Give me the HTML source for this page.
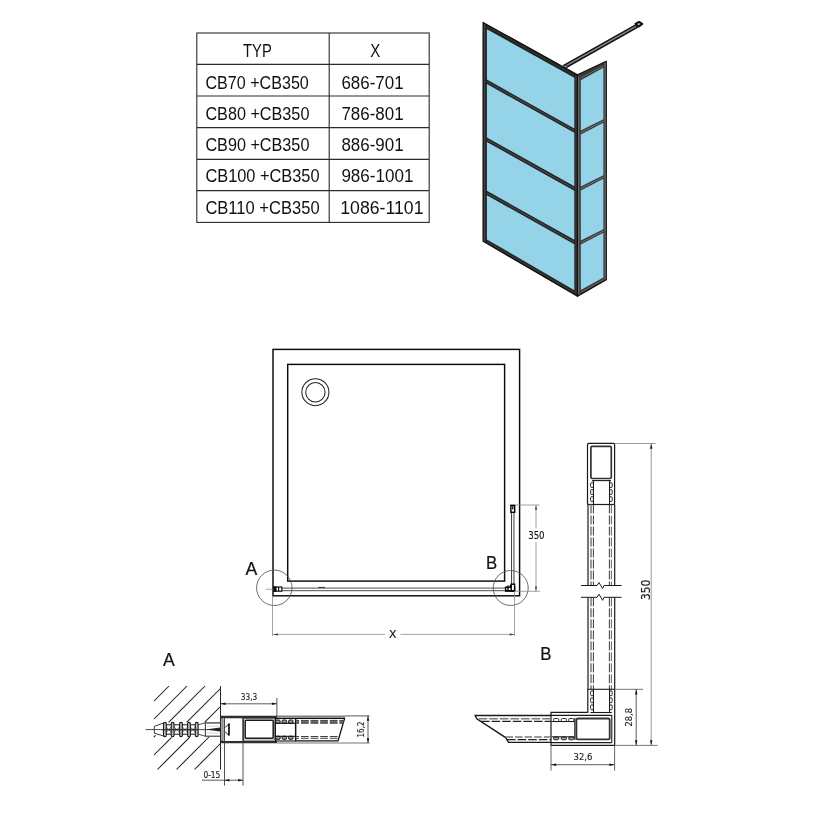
<!DOCTYPE html>
<html lang="cs"><head><meta charset="utf-8"><title>CB + CB350</title>
<style>html,body{margin:0;padding:0;background:#fff}svg{display:block;will-change:transform}text{font-family:"Liberation Sans",sans-serif}.d{font-family:"DejaVu Sans Condensed","DejaVu Sans","Liberation Sans",sans-serif}</style>
</head><body>
<svg width="830" height="830" viewBox="0 0 830 830">
<rect width="830" height="830" fill="#fff"/>
<g id="table">
<rect x="196.8" y="33" width="232.4" height="189.4" rx="0" stroke="#2a2a2a" stroke-width="1.1" fill="none" />
<line x1="196.8" y1="64.4" x2="429.2" y2="64.4" stroke="#2a2a2a" stroke-width="1.1" />
<line x1="196.8" y1="96" x2="429.2" y2="96" stroke="#2a2a2a" stroke-width="1.1" />
<line x1="196.8" y1="127.6" x2="429.2" y2="127.6" stroke="#2a2a2a" stroke-width="1.1" />
<line x1="196.8" y1="159.4" x2="429.2" y2="159.4" stroke="#2a2a2a" stroke-width="1.1" />
<line x1="196.8" y1="190.6" x2="429.2" y2="190.6" stroke="#2a2a2a" stroke-width="1.1" />
<line x1="329.2" y1="33" x2="329.2" y2="222.4" stroke="#2a2a2a" stroke-width="1.1" />
<text x="243" y="57" font-size="17.6" text-anchor="start" fill="#111" textLength="28.8" lengthAdjust="spacingAndGlyphs" >TYP</text>
<text x="370.2" y="57" font-size="17.6" text-anchor="start" fill="#111" textLength="10" lengthAdjust="spacingAndGlyphs" >X</text>
<text x="205.4" y="88.6" font-size="17.6" text-anchor="start" fill="#111" textLength="103.4" lengthAdjust="spacingAndGlyphs" >CB70 +CB350</text>
<text x="341.4" y="88.6" font-size="17.6" text-anchor="start" fill="#111" textLength="62.2" lengthAdjust="spacingAndGlyphs" >686-701</text>
<text x="205.4" y="119.8" font-size="17.6" text-anchor="start" fill="#111" textLength="104" lengthAdjust="spacingAndGlyphs" >CB80 +CB350</text>
<text x="341.4" y="119.8" font-size="17.6" text-anchor="start" fill="#111" textLength="62.2" lengthAdjust="spacingAndGlyphs" >786-801</text>
<text x="205.4" y="151" font-size="17.6" text-anchor="start" fill="#111" textLength="104" lengthAdjust="spacingAndGlyphs" >CB90 +CB350</text>
<text x="341.4" y="151" font-size="17.6" text-anchor="start" fill="#111" textLength="62.2" lengthAdjust="spacingAndGlyphs" >886-901</text>
<text x="205.4" y="182.4" font-size="17.6" text-anchor="start" fill="#111" textLength="114.2" lengthAdjust="spacingAndGlyphs" >CB100 +CB350</text>
<text x="341.4" y="182.4" font-size="17.6" text-anchor="start" fill="#111" textLength="72" lengthAdjust="spacingAndGlyphs" >986-1001</text>
<text x="205.4" y="213.6" font-size="17.6" text-anchor="start" fill="#111" textLength="114.2" lengthAdjust="spacingAndGlyphs" >CB110 +CB350</text>
<text x="340.3" y="213.6" font-size="17.6" text-anchor="start" fill="#111" textLength="83.2" lengthAdjust="spacingAndGlyphs" >1086-1101</text>
</g>
<g id="iso">
<line x1="564" y1="67.0" x2="637" y2="25.8" stroke="#111" stroke-width="4.4" />
<line x1="565" y1="66.4" x2="636" y2="26.4" stroke="#8a8a8a" stroke-width="1.5" />
<polygon points="635.4,23.8 639,21.9 642.2,23.9 638.6,26.6" fill="#c8c8c8" stroke="#111" stroke-width="2.0" stroke-linejoin="round"/>
<ellipse cx="565.2" cy="66.6" rx="2.2" ry="1.5" fill="#999" stroke="#111" stroke-width="0.8"/>
<polygon points="483.1,22.4 577.5,74.8 577.5,296.3 483.1,241.3" fill="#222" stroke="#0d0d0d" stroke-width="1.2" stroke-linejoin="round"/>
<polygon points="577.5,74.8 606.3,61.2 606.3,279.8 577.5,296.3" fill="#3a3a3a" stroke="#0d0d0d" stroke-width="1.2" stroke-linejoin="round"/>
<polygon points="486.9,29.2 574.3,77.8 574.3,128.4 486.9,79.6" fill="#94d3e8" stroke="none" stroke-width="0" />
<polygon points="486.9,84.0 574.3,132.8 574.3,186.3 486.9,137.6" fill="#94d3e8" stroke="none" stroke-width="0" />
<polygon points="486.9,142.0 574.3,190.7 574.3,239.8 486.9,190.8" fill="#94d3e8" stroke="none" stroke-width="0" />
<polygon points="486.9,195.2 574.3,244.2 574.3,290.2 486.9,239.4" fill="#94d3e8" stroke="none" stroke-width="0" />
<polygon points="580.8,80.2 603.4,67.8 603.4,119.2 580.8,130.6" fill="#94d3e8" stroke="none" stroke-width="0" />
<polygon points="580.8,134.4 603.4,122.8 603.4,175.2 580.8,186.6" fill="#94d3e8" stroke="none" stroke-width="0" />
<polygon points="580.8,190.4 603.4,178.8 603.4,229.2 580.8,240.6" fill="#94d3e8" stroke="none" stroke-width="0" />
<polygon points="580.8,244.4 603.4,232.8 603.4,277.4 580.8,290.0" fill="#94d3e8" stroke="none" stroke-width="0" />
<line x1="578.7" y1="76.5" x2="578.7" y2="294.5" stroke="#707070" stroke-width="1.1" />
<line x1="576" y1="76" x2="576" y2="294" stroke="#4a4a4a" stroke-width="0.9" />
<line x1="487" y1="26.2" x2="574.2" y2="75.2" stroke="#333" stroke-width="1.2" />
<line x1="487" y1="81.8" x2="574.2" y2="130.6" stroke="#484848" stroke-width="1.2" />
<line x1="487" y1="139.8" x2="574.2" y2="188.5" stroke="#484848" stroke-width="1.2" />
<line x1="487" y1="193" x2="574.2" y2="242" stroke="#484848" stroke-width="1.2" />
<line x1="487" y1="241.7" x2="574.2" y2="292.4" stroke="#3c3c3c" stroke-width="1.2" />
<line x1="605.2" y1="62.5" x2="605.2" y2="279.5" stroke="#707070" stroke-width="1.0" />
<line x1="581" y1="132.5" x2="603.4" y2="121.1" stroke="#777" stroke-width="1.0" />
<line x1="581" y1="188.5" x2="603.4" y2="177.1" stroke="#777" stroke-width="1.0" />
<line x1="581" y1="242.5" x2="603.4" y2="231.1" stroke="#777" stroke-width="1.0" />
<line x1="581" y1="78" x2="603.4" y2="66" stroke="#6a6a6a" stroke-width="0.9" />
<line x1="581" y1="292.2" x2="603.4" y2="279.6" stroke="#6a6a6a" stroke-width="0.9" />
<line x1="484.6" y1="24" x2="484.6" y2="241" stroke="#444" stroke-width="1.2" />
</g>
<g id="plan">
<rect x="273" y="349.4" width="246.6" height="246.4" rx="0" stroke="#0a0a0a" stroke-width="1.45" fill="none" />
<rect x="287.7" y="364.4" width="216.9" height="216.7" rx="0" stroke="#0a0a0a" stroke-width="1.45" fill="none" />
<circle cx="315.4" cy="392.2" r="13.5" fill="none" stroke="#222" stroke-width="1.05"/>
<circle cx="315.4" cy="392.2" r="9.7" fill="none" stroke="#222" stroke-width="1.05"/>
<line x1="280" y1="588.1" x2="506" y2="588.1" stroke="#2e2e2e" stroke-width="0.85" />
<line x1="280" y1="590.7" x2="506" y2="590.7" stroke="#2e2e2e" stroke-width="0.85" />
<line x1="318" y1="587.4" x2="325" y2="587.4" stroke="#333" stroke-width="1" />
<line x1="511.55" y1="512" x2="511.55" y2="586" stroke="#2a2a2a" stroke-width="0.9" />
<line x1="513.95" y1="512" x2="513.95" y2="586" stroke="#2a2a2a" stroke-width="0.9" />
<rect x="510.9" y="505.3" width="3.8" height="7.0" rx="0" stroke="#000" stroke-width="1.4" fill="none" />
<line x1="512.8" y1="506" x2="512.8" y2="509.4" stroke="#000" stroke-width="1.2" />
<rect x="274" y="587" width="7.8" height="4.2" rx="0" stroke="#111" stroke-width="1.2" fill="#fff" />
<rect x="273.6" y="586.8" width="2.6" height="4.6" rx="0" stroke="#111" stroke-width="0.6" fill="#111" />
<line x1="278.6" y1="587" x2="278.6" y2="591" stroke="#111" stroke-width="1.2" />
<line x1="266" y1="589.3" x2="273" y2="589.3" stroke="#888" stroke-width="0.8" />
<rect x="505.6" y="587.2" width="9.0" height="3.8" rx="0" stroke="#000" stroke-width="1.4" fill="#fff" />
<rect x="511.2" y="584.2" width="3.4" height="6.8" rx="0" stroke="#000" stroke-width="1.4" fill="#fff" />
<line x1="508" y1="585.6" x2="508" y2="591" stroke="#000" stroke-width="1.4" />
<line x1="510.4" y1="585" x2="510.4" y2="588" stroke="#000" stroke-width="1.4" />
<line x1="505.4" y1="590.8" x2="515" y2="590.8" stroke="#000" stroke-width="1.4" />
<circle cx="274.3" cy="587.8" r="17.7" fill="none" stroke="#4a4a4a" stroke-width="0.8"/>
<circle cx="510.7" cy="588" r="17.5" fill="none" stroke="#4a4a4a" stroke-width="0.8"/>
<line x1="272.5" y1="596" x2="272.5" y2="636" stroke="#8c8c8c" stroke-width="0.8" />
<line x1="514.5" y1="591" x2="514.5" y2="636" stroke="#8c8c8c" stroke-width="0.8" />
<line x1="273" y1="634.4" x2="385" y2="634.4" stroke="#8c8c8c" stroke-width="0.8" />
<line x1="400.5" y1="634.4" x2="514.5" y2="634.4" stroke="#8c8c8c" stroke-width="0.8" />
<polygon points="273.3,634.4 277.8,633.4 277.8,635.4" fill="#333" stroke="none" stroke-width="0" />
<polygon points="514.2,634.4 509.70000000000005,633.4 509.70000000000005,635.4" fill="#333" stroke="none" stroke-width="0" />
<text x="389" y="638" font-size="11" text-anchor="start" fill="#111" stroke="#111" stroke-width="0.15" textLength="7.4" lengthAdjust="spacingAndGlyphs" class="d">X</text>
<line x1="515" y1="505" x2="539.5" y2="505" stroke="#8c8c8c" stroke-width="0.8" />
<line x1="515" y1="591.3" x2="540" y2="591.3" stroke="#8c8c8c" stroke-width="0.8" />
<line x1="536" y1="505" x2="536" y2="528.5" stroke="#8c8c8c" stroke-width="0.8" />
<line x1="536" y1="542" x2="536" y2="591.3" stroke="#8c8c8c" stroke-width="0.8" />
<polygon points="536,505.3 535.0,509.8 537.0,509.8" fill="#333" stroke="none" stroke-width="0" />
<polygon points="536,591 535.0,586.5 537.0,586.5" fill="#333" stroke="none" stroke-width="0" />
<text x="528.2" y="539" font-size="10.3" text-anchor="start" fill="#111" stroke="#111" stroke-width="0.12" textLength="16.4" lengthAdjust="spacingAndGlyphs" class="d">350</text>
<text x="245.6" y="575.2" font-size="18.4" text-anchor="start" fill="#111" stroke="#111" stroke-width="0.2" textLength="11.8" lengthAdjust="spacingAndGlyphs" >A</text>
<text x="486" y="568.5" font-size="18.2" text-anchor="start" fill="#111" stroke="#111" stroke-width="0.2" textLength="11.2" lengthAdjust="spacingAndGlyphs" >B</text>
</g>
<g id="detailA">
<text x="163" y="665.8" font-size="18.4" text-anchor="start" fill="#111" stroke="#111" stroke-width="0.2" textLength="11.8" lengthAdjust="spacingAndGlyphs" >A</text>
<line x1="154" y1="701" x2="169" y2="686" stroke="#1a1a1a" stroke-width="1.05" />
<line x1="154" y1="719" x2="187" y2="686" stroke="#1a1a1a" stroke-width="1.05" />
<line x1="168.6" y1="722.4" x2="205" y2="686" stroke="#1a1a1a" stroke-width="1.05" />
<line x1="186.6" y1="722.4" x2="220.5" y2="688.5" stroke="#1a1a1a" stroke-width="1.05" />
<line x1="204.8" y1="722.2" x2="220.5" y2="706.5" stroke="#1a1a1a" stroke-width="1.05" />
<line x1="154" y1="755" x2="171.6" y2="737.4" stroke="#1a1a1a" stroke-width="1.05" />
<line x1="157.5" y1="769.5" x2="189.8" y2="737.2" stroke="#1a1a1a" stroke-width="1.05" />
<line x1="176.5" y1="769.5" x2="209" y2="737" stroke="#1a1a1a" stroke-width="1.05" />
<line x1="194.5" y1="769.5" x2="220.5" y2="743.5" stroke="#1a1a1a" stroke-width="1.05" />
<line x1="153.8" y1="737.2" x2="155.6" y2="735.4" stroke="#1a1a1a" stroke-width="1.05" />
<line x1="220.5" y1="686" x2="220.5" y2="769.6" stroke="#262626" stroke-width="1.0" />
<line x1="145.5" y1="729.6" x2="221" y2="729.6" stroke="#222" stroke-width="0.8" />
<polyline points="163.6,723 154.3,726.4 154.3,733.2 163.6,736" fill="none" stroke="#222" stroke-width="0.9" />
<rect x="163.5" y="722.4" width="2.8" height="14.2" rx="1.4" stroke="#1a1a1a" stroke-width="1.1" fill="#bbb" />
<rect x="171.2" y="722.4" width="2.8" height="14.2" rx="1.4" stroke="#1a1a1a" stroke-width="1.1" fill="#bbb" />
<rect x="179.6" y="722.4" width="2.8" height="14.2" rx="1.4" stroke="#1a1a1a" stroke-width="1.1" fill="#bbb" />
<rect x="187.6" y="722.4" width="2.8" height="14.2" rx="1.4" stroke="#1a1a1a" stroke-width="1.1" fill="#bbb" />
<rect x="195.29999999999998" y="722.4" width="2.8" height="14.2" rx="1.4" stroke="#1a1a1a" stroke-width="1.1" fill="#bbb" />
<line x1="166.3" y1="724.8" x2="171.2" y2="724.8" stroke="#1a1a1a" stroke-width="1.0" />
<line x1="166.3" y1="734.2" x2="171.2" y2="734.2" stroke="#1a1a1a" stroke-width="1.0" />
<polyline points="166.3,727 171.2,732.2" fill="none" stroke="#333" stroke-width="0.8" />
<polyline points="166.3,732.2 171.2,727" fill="none" stroke="#333" stroke-width="0.8" />
<line x1="174" y1="724.8" x2="179.6" y2="724.8" stroke="#1a1a1a" stroke-width="1.0" />
<line x1="174" y1="734.2" x2="179.6" y2="734.2" stroke="#1a1a1a" stroke-width="1.0" />
<polyline points="174,727 179.6,732.2" fill="none" stroke="#333" stroke-width="0.8" />
<polyline points="174,732.2 179.6,727" fill="none" stroke="#333" stroke-width="0.8" />
<line x1="182.4" y1="724.8" x2="187.6" y2="724.8" stroke="#1a1a1a" stroke-width="1.0" />
<line x1="182.4" y1="734.2" x2="187.6" y2="734.2" stroke="#1a1a1a" stroke-width="1.0" />
<polyline points="182.4,727 187.6,732.2" fill="none" stroke="#333" stroke-width="0.8" />
<polyline points="182.4,732.2 187.6,727" fill="none" stroke="#333" stroke-width="0.8" />
<line x1="190.4" y1="724.8" x2="195.3" y2="724.8" stroke="#1a1a1a" stroke-width="1.0" />
<line x1="190.4" y1="734.2" x2="195.3" y2="734.2" stroke="#1a1a1a" stroke-width="1.0" />
<polyline points="190.4,727 195.3,732.2" fill="none" stroke="#333" stroke-width="0.8" />
<polyline points="190.4,732.2 195.3,727" fill="none" stroke="#333" stroke-width="0.8" />
<line x1="162" y1="729.6" x2="198" y2="729.6" stroke="#333" stroke-width="1.2" />
<polyline points="198.1,724.8 205.4,722.8" fill="none" stroke="#222" stroke-width="0.8" />
<polyline points="198.1,734.2 205.4,736.2" fill="none" stroke="#222" stroke-width="0.8" />
<line x1="205.4" y1="722.2" x2="205.4" y2="736.6" stroke="#444" stroke-width="1.1" />
<line x1="205.4" y1="722.9" x2="220.4" y2="722.9" stroke="#555" stroke-width="1.5" />
<line x1="205.4" y1="736.2" x2="220.4" y2="736.2" stroke="#333" stroke-width="1.1" />
<line x1="207" y1="726.2" x2="219" y2="726.2" stroke="#bbb" stroke-width="0.6" />
<line x1="207" y1="733" x2="219" y2="733" stroke="#bbb" stroke-width="0.6" />
<polygon points="205.5,729.6 220.2,727.6 220.2,731.6" fill="#222" stroke="none" stroke-width="0" />
<line x1="220.5" y1="716.9" x2="277" y2="716.9" stroke="#2e2e2e" stroke-width="2.5" />
<line x1="220.5" y1="742.1" x2="277" y2="742.1" stroke="#2e2e2e" stroke-width="2.3" />
<rect x="221.0" y="718.6" width="1.9" height="22.4" rx="0.8" stroke="#222" stroke-width="0.8" fill="none" />
<line x1="224.4" y1="716" x2="224.4" y2="743" stroke="#333" stroke-width="1.0" />
<line x1="243.1" y1="716" x2="243.1" y2="743" stroke="#333" stroke-width="1.6" />
<rect x="245.2" y="720.3" width="28.0" height="18.0" rx="0.8" stroke="#1a1a1a" stroke-width="1.5" fill="none" />
<rect x="243.6" y="718.6" width="31.2" height="21.6" rx="0.4" stroke="#333" stroke-width="0.7" fill="none" />
<line x1="275.4" y1="717" x2="275.4" y2="742" stroke="#111" stroke-width="1.2" />
<polyline points="225.2,727.6 228.8,723.8 228.8,735.2 225.2,731.8" fill="none" stroke="#1a1a1a" stroke-width="1.0" />
<line x1="229" y1="723.4" x2="229" y2="735.6" stroke="#1a1a1a" stroke-width="1.6" />
<line x1="295.6" y1="718.4" x2="295.6" y2="741" stroke="#1a1a1a" stroke-width="1.2" />
<rect x="275.59999999999997" y="720.0" width="4.6" height="3.4" rx="1.4" stroke="#111" stroke-width="1.0" fill="#999" />
<rect x="275.59999999999997" y="736.2" width="4.6" height="3.2" rx="1.4" stroke="#111" stroke-width="1.0" fill="#999" />
<rect x="282.0" y="720.0" width="4.6" height="3.4" rx="1.4" stroke="#111" stroke-width="1.0" fill="#999" />
<rect x="282.0" y="736.2" width="4.6" height="3.2" rx="1.4" stroke="#111" stroke-width="1.0" fill="#999" />
<rect x="288.5" y="720.0" width="4.6" height="3.4" rx="1.4" stroke="#111" stroke-width="1.0" fill="#999" />
<rect x="288.5" y="736.2" width="4.6" height="3.2" rx="1.4" stroke="#111" stroke-width="1.0" fill="#999" />
<line x1="275.6" y1="723.3" x2="295.6" y2="723.3" stroke="#111" stroke-width="1.1" />
<line x1="275.6" y1="736.3" x2="295.6" y2="736.3" stroke="#111" stroke-width="1.1" />
<line x1="275.6" y1="718.5" x2="295.6" y2="718.5" stroke="#111" stroke-width="1.1" />
<line x1="275.6" y1="741.0" x2="295.6" y2="741.0" stroke="#111" stroke-width="1.1" />
<polygon points="295.6,718.4 344.6,718.4 338,740.9 295.6,740.9" fill="none" stroke="#111" stroke-width="1.3" />
<line x1="296.2" y1="721.8" x2="343.4" y2="721.8" stroke="#6a6a6a" stroke-width="3.2" stroke-dasharray="7.7 1.9" stroke-dashoffset="4.8"/>
<line x1="296.2" y1="720.4" x2="343.6" y2="720.4" stroke="#333" stroke-width="0.8" stroke-dasharray="7.7 1.9" stroke-dashoffset="4.8"/>
<line x1="296.2" y1="723.2" x2="343" y2="723.2" stroke="#333" stroke-width="0.8" stroke-dasharray="7.7 1.9" stroke-dashoffset="4.8"/>
<line x1="296.2" y1="736.5" x2="339" y2="736.5" stroke="#2a2a2a" stroke-width="0.9" stroke-dasharray="7.7 1.9" stroke-dashoffset="4.8"/>
<line x1="296.2" y1="738.3" x2="338.6" y2="738.3" stroke="#2a2a2a" stroke-width="0.9" stroke-dasharray="7.7 1.9" stroke-dashoffset="4.8"/>
<line x1="277" y1="716.6" x2="345" y2="716.6" stroke="#808080" stroke-width="2.4" />
<line x1="345" y1="715.9" x2="369.6" y2="715.9" stroke="#666" stroke-width="1.1" />
<line x1="277" y1="743.0" x2="369.6" y2="743.0" stroke="#777" stroke-width="1.2" />
<line x1="368" y1="716" x2="368" y2="743" stroke="#333" stroke-width="0.8" />
<polygon points="368,716 366.8,720.8 369.2,720.8" fill="#111" stroke="none" stroke-width="0" />
<polygon points="368,743 366.8,738.2 369.2,738.2" fill="#111" stroke="none" stroke-width="0" />
<text x="364" y="737.4" font-size="9" text-anchor="start" fill="#222" stroke="#222" stroke-width="0.15" textLength="15.8" lengthAdjust="spacingAndGlyphs" transform="rotate(-90 364 737.4)" class="d">16,2</text>
<line x1="276.9" y1="698" x2="276.9" y2="716" stroke="#555" stroke-width="1.0" />
<line x1="220.5" y1="703.8" x2="277" y2="703.8" stroke="#333" stroke-width="0.8" />
<polygon points="220.7,703.8 225.5,702.5999999999999 225.5,705.0" fill="#111" stroke="none" stroke-width="0" />
<polygon points="276.7,703.8 271.9,702.5999999999999 271.9,705.0" fill="#111" stroke="none" stroke-width="0" />
<text x="240.8" y="700" font-size="9" text-anchor="start" fill="#222" stroke="#222" stroke-width="0.15" textLength="16.4" lengthAdjust="spacingAndGlyphs" class="d">33,3</text>
<line x1="224.5" y1="743" x2="224.5" y2="785.6" stroke="#555" stroke-width="1.0" />
<line x1="243" y1="743" x2="243" y2="785.6" stroke="#555" stroke-width="1.0" />
<line x1="202" y1="780.2" x2="243" y2="780.2" stroke="#333" stroke-width="0.8" />
<polygon points="224.7,780.2 229.29999999999998,779.0 229.29999999999998,781.4000000000001" fill="#111" stroke="none" stroke-width="0" />
<polygon points="242.8,780.2 238.20000000000002,779.0 238.20000000000002,781.4000000000001" fill="#111" stroke="none" stroke-width="0" />
<text x="203.4" y="777.8" font-size="9" text-anchor="start" fill="#222" stroke="#222" stroke-width="0.15" textLength="17" lengthAdjust="spacingAndGlyphs" class="d">0-15</text>
</g>
<g id="detailB">
<text x="540.2" y="660" font-size="18.2" text-anchor="start" fill="#111" stroke="#111" stroke-width="0.2" textLength="11.2" lengthAdjust="spacingAndGlyphs" >B</text>
<rect x="587.5" y="443.4" width="27.1" height="61.1" rx="1.2" stroke="#1a1a1a" stroke-width="1.2" fill="none" />
<rect x="590.9" y="446.3" width="20.4" height="32.2" rx="1.2" stroke="#333" stroke-width="1.7" fill="none" />
<line x1="587.5" y1="504.5" x2="614.6" y2="504.5" stroke="#1a1a1a" stroke-width="1.2" />
<rect x="590.6" y="482.6" width="2.8" height="5.0" rx="1.3" stroke="#1a1a1a" stroke-width="0.9" fill="#fff" />
<rect x="609.6" y="482.6" width="2.6" height="5.0" rx="1.3" stroke="#1a1a1a" stroke-width="0.9" fill="#fff" />
<rect x="590.6" y="489.6" width="2.8" height="5.0" rx="1.3" stroke="#1a1a1a" stroke-width="0.9" fill="#fff" />
<rect x="609.6" y="489.6" width="2.6" height="5.0" rx="1.3" stroke="#1a1a1a" stroke-width="0.9" fill="#fff" />
<rect x="590.6" y="496.6" width="2.8" height="5.0" rx="1.3" stroke="#1a1a1a" stroke-width="0.9" fill="#fff" />
<rect x="609.6" y="496.6" width="2.6" height="5.0" rx="1.3" stroke="#1a1a1a" stroke-width="0.9" fill="#fff" />
<line x1="593.5" y1="480.6" x2="593.5" y2="504.1" stroke="#1a1a1a" stroke-width="1.0" />
<line x1="609.5" y1="480.6" x2="609.5" y2="504.1" stroke="#1a1a1a" stroke-width="1.0" />
<line x1="592" y1="480.6" x2="611" y2="480.6" stroke="#1a1a1a" stroke-width="1.1" />
<line x1="588" y1="504.5" x2="588" y2="585.5" stroke="#1a1a1a" stroke-width="1.2" />
<line x1="614.7" y1="504.5" x2="614.7" y2="585.5" stroke="#1a1a1a" stroke-width="1.2" />
<line x1="591" y1="504.5" x2="591" y2="585.5" stroke="#7a7a7a" stroke-width="1.5" stroke-dasharray="9 2"/>
<line x1="593.4" y1="504.5" x2="593.4" y2="585.5" stroke="#222" stroke-width="0.9" stroke-dasharray="9 2"/>
<line x1="609.4" y1="504.5" x2="609.4" y2="585.5" stroke="#222" stroke-width="0.9" stroke-dasharray="9 2"/>
<line x1="611.4" y1="504.5" x2="611.4" y2="585.5" stroke="#555" stroke-width="0.9" stroke-dasharray="9 2"/>
<line x1="588" y1="597.3" x2="588" y2="689.3" stroke="#1a1a1a" stroke-width="1.2" />
<line x1="614.7" y1="597.3" x2="614.7" y2="689.3" stroke="#1a1a1a" stroke-width="1.2" />
<line x1="591" y1="597.3" x2="591" y2="689.3" stroke="#7a7a7a" stroke-width="1.5" stroke-dasharray="9 2"/>
<line x1="593.4" y1="597.3" x2="593.4" y2="689.3" stroke="#222" stroke-width="0.9" stroke-dasharray="9 2"/>
<line x1="609.4" y1="597.3" x2="609.4" y2="689.3" stroke="#222" stroke-width="0.9" stroke-dasharray="9 2"/>
<line x1="611.4" y1="597.3" x2="611.4" y2="689.3" stroke="#555" stroke-width="0.9" stroke-dasharray="9 2"/>
<polyline points="581,585.5 597,585.5 599,582.5 602.6,588.5 604,585.5 621.6,585.5" fill="none" stroke="#1a1a1a" stroke-width="1.0" />
<polyline points="581,597.3 597,597.3 599,594.3 602.6,600.3 604,597.3 621.6,597.3" fill="none" stroke="#1a1a1a" stroke-width="1.0" />
<line x1="587.6" y1="689.3" x2="614.6" y2="689.3" stroke="#1a1a1a" stroke-width="1.1" />
<rect x="590.6" y="690.8" width="2.8" height="5.0" rx="1.3" stroke="#1a1a1a" stroke-width="0.9" fill="#fff" />
<rect x="609.6" y="690.8" width="2.6" height="5.0" rx="1.3" stroke="#1a1a1a" stroke-width="0.9" fill="#fff" />
<rect x="590.6" y="697.8" width="2.8" height="5.0" rx="1.3" stroke="#1a1a1a" stroke-width="0.9" fill="#fff" />
<rect x="609.6" y="697.8" width="2.6" height="5.0" rx="1.3" stroke="#1a1a1a" stroke-width="0.9" fill="#fff" />
<rect x="590.6" y="704.8" width="2.8" height="5.0" rx="1.3" stroke="#1a1a1a" stroke-width="0.9" fill="#fff" />
<rect x="609.6" y="704.8" width="2.6" height="5.0" rx="1.3" stroke="#1a1a1a" stroke-width="0.9" fill="#fff" />
<line x1="593.5" y1="688.8" x2="593.5" y2="712.3" stroke="#1a1a1a" stroke-width="1.0" />
<line x1="609.5" y1="688.8" x2="609.5" y2="712.3" stroke="#1a1a1a" stroke-width="1.0" />
<polyline points="587.8,689.3 587.8,712.4 551,712.4 551,745.4 614.7,745.4 614.7,689.3" fill="none" stroke="#1a1a1a" stroke-width="1.2" />
<polyline points="590.4,712.5 611.8,712.5" fill="none" stroke="#1a1a1a" stroke-width="1.1" />
<line x1="551" y1="715.4" x2="611.8" y2="715.4" stroke="#1a1a1a" stroke-width="1.1" />
<line x1="551" y1="742.6" x2="611.8" y2="742.6" stroke="#1a1a1a" stroke-width="1.1" />
<line x1="611.8" y1="715.4" x2="611.8" y2="742.6" stroke="#1a1a1a" stroke-width="1.1" />
<rect x="576.4" y="718.5" width="33.3" height="20.9" rx="1.6" stroke="#333" stroke-width="1.8" fill="none" />
<line x1="574.8" y1="718" x2="574.8" y2="740" stroke="#1a1a1a" stroke-width="1.1" />
<rect x="553.6" y="718.5" width="5.2" height="3.1" rx="1.3" stroke="#1a1a1a" stroke-width="0.9" fill="#fff" />
<rect x="553.6" y="736.8" width="5.2" height="3.0" rx="1.3" stroke="#1a1a1a" stroke-width="0.9" fill="#999" />
<rect x="561.1999999999999" y="718.5" width="5.2" height="3.1" rx="1.3" stroke="#1a1a1a" stroke-width="0.9" fill="#fff" />
<rect x="561.1999999999999" y="736.8" width="5.2" height="3.0" rx="1.3" stroke="#1a1a1a" stroke-width="0.9" fill="#999" />
<rect x="568.6" y="718.5" width="5.2" height="3.1" rx="1.3" stroke="#1a1a1a" stroke-width="0.9" fill="#fff" />
<rect x="568.6" y="736.8" width="5.2" height="3.0" rx="1.3" stroke="#1a1a1a" stroke-width="0.9" fill="#999" />
<line x1="551.5" y1="721.5" x2="574.8" y2="721.5" stroke="#1a1a1a" stroke-width="1.0" />
<line x1="551.5" y1="736.8" x2="574.8" y2="736.8" stroke="#1a1a1a" stroke-width="1.0" />
<polyline points="551,715.5 475.2,715.5 476.8,718.8 505.6,737.6 508.6,742.4 551,742.4" fill="none" stroke="#1a1a1a" stroke-width="1.4" />
<line x1="478.6" y1="718.8" x2="551" y2="718.8" stroke="#7a7a7a" stroke-width="1.5" stroke-dasharray="8.6 2"/>
<line x1="481" y1="721.4" x2="551" y2="721.4" stroke="#222" stroke-width="1.2" stroke-dasharray="8.6 2"/>
<line x1="505.4" y1="737" x2="551" y2="737" stroke="#7a7a7a" stroke-width="1.5" stroke-dasharray="7.6 2"/>
<line x1="507" y1="739.6" x2="551" y2="739.6" stroke="#222" stroke-width="1.2" stroke-dasharray="8.6 2"/>
<line x1="614.7" y1="443.5" x2="655.5" y2="443.5" stroke="#8c8c8c" stroke-width="0.9" />
<line x1="651.2" y1="443.5" x2="651.2" y2="745.3" stroke="#8c8c8c" stroke-width="0.9" />
<polygon points="651.2,443.7 650.0,448.7 652.4000000000001,448.7" fill="#111" stroke="none" stroke-width="0" />
<polygon points="651.2,745.2 650.0,740.2 652.4000000000001,740.2" fill="#111" stroke="none" stroke-width="0" />
<text x="650" y="600" font-size="13" text-anchor="start" fill="#222" stroke="#222" stroke-width="0.15" textLength="20.4" lengthAdjust="spacingAndGlyphs" transform="rotate(-90 650 600)" class="d">350</text>
<line x1="614.7" y1="689.3" x2="643" y2="689.3" stroke="#666" stroke-width="0.9" />
<line x1="614.7" y1="745.4" x2="657.6" y2="745.4" stroke="#666" stroke-width="0.9" />
<line x1="636.2" y1="689.3" x2="636.2" y2="745.3" stroke="#333" stroke-width="0.8" />
<polygon points="636.2,689.5 635.0,694.5 637.4000000000001,694.5" fill="#111" stroke="none" stroke-width="0" />
<polygon points="636.2,745.2 635.0,740.2 637.4000000000001,740.2" fill="#111" stroke="none" stroke-width="0" />
<text x="632" y="726.4" font-size="9.3" text-anchor="start" fill="#222" stroke="#222" stroke-width="0.15" textLength="18.4" lengthAdjust="spacingAndGlyphs" transform="rotate(-90 632 726.4)" class="d">28,8</text>
<line x1="551" y1="745.4" x2="551" y2="770.6" stroke="#666" stroke-width="1.0" />
<line x1="614.6" y1="745.4" x2="614.6" y2="770.6" stroke="#666" stroke-width="1.0" />
<line x1="551" y1="764.7" x2="614.6" y2="764.7" stroke="#333" stroke-width="0.8" />
<polygon points="551.2,764.7 556.2,763.5 556.2,765.9000000000001" fill="#111" stroke="none" stroke-width="0" />
<polygon points="614.4,764.7 609.4,763.5 609.4,765.9000000000001" fill="#111" stroke="none" stroke-width="0" />
<text x="573.6" y="760" font-size="9.3" text-anchor="start" fill="#222" stroke="#222" stroke-width="0.15" textLength="18.8" lengthAdjust="spacingAndGlyphs" class="d">32,6</text>
</g>
</svg>
</body></html>
